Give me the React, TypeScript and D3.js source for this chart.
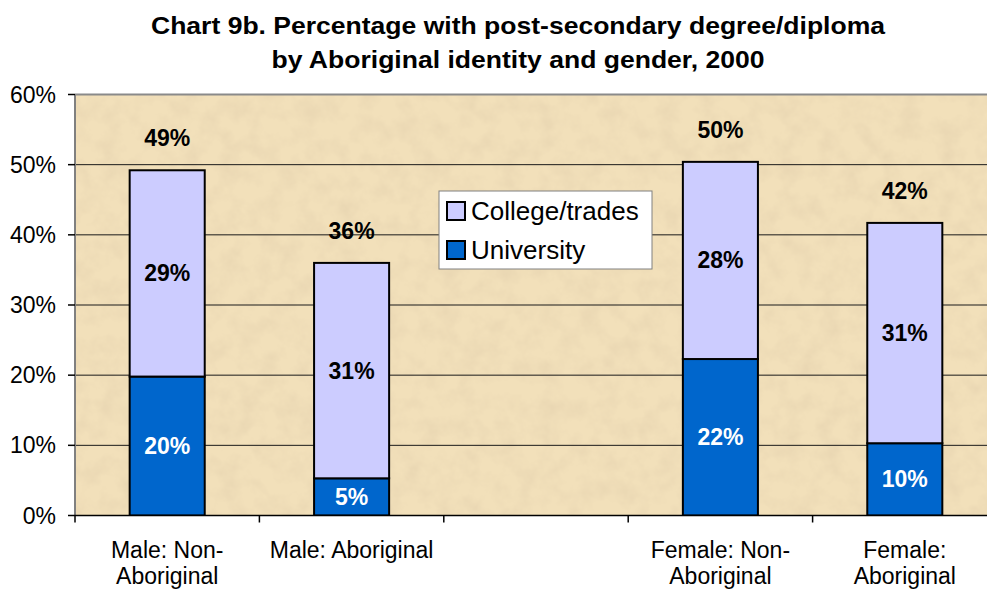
import React from "react";
import * as d3 from "d3";

const categories = ["Male: Non-Aboriginal", "Male: Aboriginal", "", "Female: Non-Aboriginal", "Female: Aboriginal"];
const categoryLines: string[][] = [["Male: Non-", "Aboriginal"], ["Male: Aboriginal"], [], ["Female: Non-", "Aboriginal"], ["Female:", "Aboriginal"]];
const university: (number | null)[] = [19.8, 5.3, null, 22.3, 10.3];
const college: (number | null)[] = [29.4, 30.7, null, 28.1, 31.4];
const yTicks = [0, 10, 20, 30, 40, 50, 60];
const seriesNames = ["College/trades", "University"];
const titleLines = ["Chart 9b. Percentage with post-secondary degree/diploma", "by Aboriginal identity and gender, 2000"];

const W = 987;
const H = 590;
const FONT = "'Liberation Sans', Arial, Helvetica, sans-serif";
const C_COLLEGE = "#CCCCFF";
const C_UNIV = "#0066CC";

export default function App() {
  const left = 75;
  const right = 997;
  const top = 94.5;
  const bottom = 515.5;

  const x = d3.scaleBand<string>().domain(categories.map((c, i) => String(i))).range([left, right]).padding(0);
  const y = d3.scaleLinear().domain([0, 60]).range([bottom, top]);
  const bw = x.bandwidth() * 0.407;

  const boundaries = d3.range(categories.length + 1).map((i) => left + i * x.step());

  return (
    <div style={{ position: "absolute", left: 0, top: 0 }}>
      <svg width={W} height={H} viewBox={`0 0 ${W} ${H}`} style={{ display: "block", background: "#fff" }} fontFamily={FONT}>
        <defs>
          <filter id="paper" x="0" y="0" width="100%" height="100%" filterUnits="objectBoundingBox">
            <feTurbulence type="fractalNoise" baseFrequency="0.05" numOctaves="4" seed="7" result="noise" />
            <feColorMatrix
              in="noise"
              type="matrix"
              values="0 0 0 0 0.82  0 0 0 0 0.68  0 0 0 0 0.45  1.9 0 0 0 -0.72"
            />
          </filter>
          <clipPath id="plotclip">
            <rect x={left} y={top} width={right - left} height={bottom - top} />
          </clipPath>
        </defs>

        {/* Title */}
        {titleLines.map((t, i) => (
          <text
            key={i}
            x={518}
            y={34 + i * 33.5}
            textAnchor="middle"
            fontSize={24}
            fontWeight="bold"
            fill="#000"
            textLength={i === 0 ? 734 : 493}
            lengthAdjust="spacingAndGlyphs"
          >
            {t}
          </text>
        ))}

        {/* Plot background */}
        <rect x={left} y={top} width={right - left} height={bottom - top} fill="#F2E0BA" />
        <rect x={left} y={top} width={right - left} height={bottom - top} fill="#F2E0BA" filter="url(#paper)" />

        {/* Gridlines */}
        {yTicks.filter((t) => t > 0 && t < 60).map((t) => (
          <line key={t} x1={left} x2={right} y1={y(t)} y2={y(t)} stroke="#1a1a1a" strokeWidth={1} />
        ))}
        {/* top border */}
        <line x1={left} x2={right} y1={y(60)} y2={y(60)} stroke="#8a8a8a" strokeWidth={2} />

        {/* Bars */}
        <g clipPath="url(#plotclip)">
          {categories.map((c, i) => {
            const u = university[i];
            const co = college[i];
            if (u == null || co == null) return null;
            const cx = (x(String(i)) as number) + x.bandwidth() / 2;
            const x0 = cx - bw / 2;
            return (
              <g key={i}>
                <rect x={x0} y={y(u)} width={bw} height={y(0) - y(u)} fill={C_UNIV} stroke="#000" strokeWidth={2} />
                <rect x={x0} y={y(u + co)} width={bw} height={y(u) - y(u + co)} fill={C_COLLEGE} stroke="#000" strokeWidth={2} />
              </g>
            );
          })}
        </g>

        {/* Axes */}
        <line x1={left} x2={left} y1={top} y2={bottom} stroke="#808080" strokeWidth={2} />
        <line x1={left} x2={W} y1={bottom} y2={bottom} stroke="#000" strokeWidth={1.5} />
        {yTicks.map((t) => (
          <g key={t}>
            <line x1={left - 7} x2={left} y1={y(t)} y2={y(t)} stroke="#000" strokeWidth={1.5} />
            <text x={56} y={y(t) + 8} textAnchor="end" fontSize={23} fill="#000">
              {t}%
            </text>
          </g>
        ))}
        {boundaries.map((b, i) => (
          <line key={i} x1={b} x2={b} y1={bottom} y2={bottom + 7} stroke="#000" strokeWidth={1.5} />
        ))}
        {categoryLines.map((lines, i) => {
          const cx = (x(String(i)) as number) + x.bandwidth() / 2;
          return (
            <text key={i} textAnchor="middle" fontSize={23} fill="#000">
              {lines.map((l, j) => (
                <tspan key={j} x={cx} y={558 + j * 26}>
                  {l}
                </tspan>
              ))}
            </text>
          );
        })}

        {/* Data labels */}
        {categories.map((c, i) => {
          const u = university[i];
          const co = college[i];
          if (u == null || co == null) return null;
          const cx = (x(String(i)) as number) + x.bandwidth() / 2;
          return (
            <g key={i} fontWeight="bold" fontSize={23} textAnchor="middle">
              <text x={cx} y={(y(0) + y(u)) / 2 + 8} fill="#fff">
                {Math.round(u)}%
              </text>
              <text x={cx} y={(y(u) + y(u + co)) / 2 + 8} fill="#000">
                {Math.round(co)}%
              </text>
              <text x={cx} y={y(u + co) - 24} fill="#000">
                {Math.round(u + co)}%
              </text>
            </g>
          );
        })}

        {/* Legend */}
        <g>
          <rect x={439} y={191} width={213} height={78} fill="#fff" stroke="#808080" strokeWidth={1} />
          {seriesNames.map((s, i) => (
            <g key={s}>
              <rect x={447} y={202 + i * 39} width={18} height={18} fill={i === 0 ? C_COLLEGE : C_UNIV} stroke="#000" strokeWidth={2} />
              <text x={471} y={220 + i * 38.5} fontSize={26} fill="#000">
                {s}
              </text>
            </g>
          ))}
        </g>
      </svg>
    </div>
  );
}
